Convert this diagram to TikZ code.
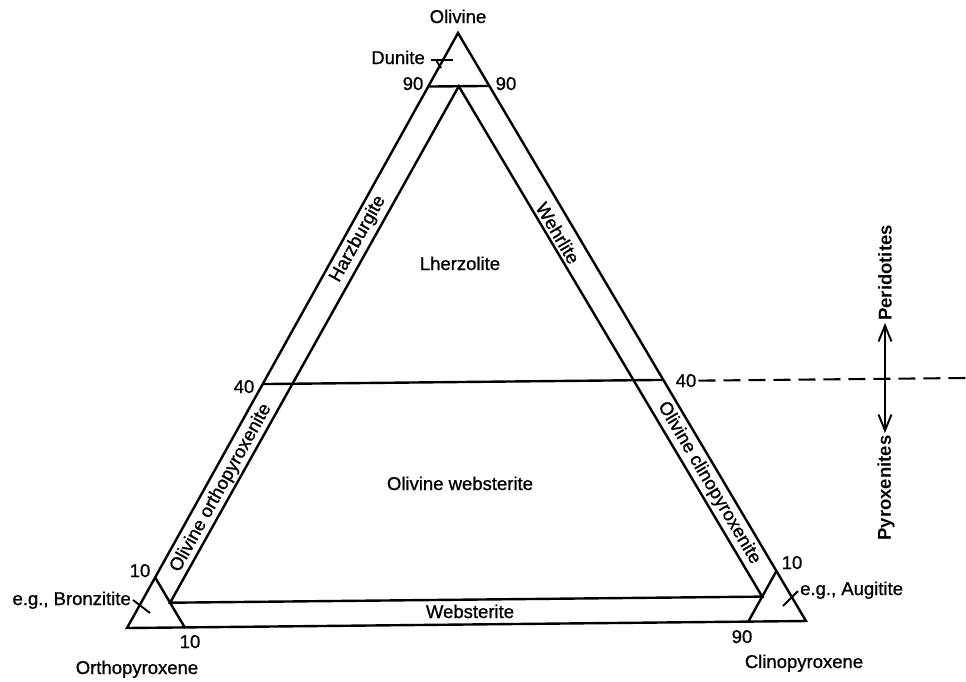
\documentclass[tikz,border=0pt]{standalone}
\usepackage{fontspec}
\setmainfont{Liberation Sans}
\newfontfamily\lblfam{Liberation Sans}[FakeBold=0.9]
\usetikzlibrary{arrows.meta}
\begin{document}
\begin{tikzpicture}[x=1pt,y=-1pt,
  edge/.style={line width=2.4pt, line join=miter},
  tickline/.style={line width=1.9pt},
  dashline/.style={line width=2.1pt, dash pattern=on 17pt off 8pt},
  arr/.style={line width=1.9pt, -{Straight Barb[length=16pt,width=13pt,line width=1.9pt]}},
  lbl/.style={inner sep=0pt, font=\fontsize{18.5}{22}\lblfam},
  blbl/.style={inner sep=0pt, font=\fontsize{18.5}{22}\selectfont\bfseries}]
\useasboundingbox (0,0) rectangle (966,681);
\fill[white] (0,0) rectangle (966,681);
% corners
\coordinate (ol) at (458,33);
\coordinate (opx) at (127,628);
\coordinate (cpx) at (806,621);
% field boundaries
\coordinate (t90l) at (barycentric cs:ol=0.91,opx=0.09,cpx=0);
\coordinate (t90r) at (barycentric cs:ol=0.91,opx=0,cpx=0.09);
\coordinate (ia) at (barycentric cs:ol=0.91,opx=0.045,cpx=0.045);
\coordinate (ibl) at (barycentric cs:ol=0.042,opx=0.915,cpx=0.043);
\coordinate (ibr) at (barycentric cs:ol=0.042,opx=0.043,cpx=0.915);
\coordinate (f40l) at (barycentric cs:ol=0.41,opx=0.59,cpx=0);
\coordinate (f40r) at (barycentric cs:ol=0.41,opx=0,cpx=0.59);
\coordinate (c10l) at (barycentric cs:ol=0.085,opx=0.915,cpx=0);
\coordinate (c10b) at (barycentric cs:ol=0,opx=0.915,cpx=0.085);
\coordinate (c10r) at (barycentric cs:ol=0.085,opx=0,cpx=0.915);
\coordinate (c90b) at (barycentric cs:ol=0,opx=0.085,cpx=0.915);

\draw[edge] (ol) -- (opx) -- (cpx) -- cycle;
\draw[edge] (t90l) -- (t90r);
\draw[edge] (ia) -- (ibl) -- (ibr) -- cycle;
\draw[edge] (f40l) -- (f40r);
\draw[edge] (c10l) -- (c10b);
\draw[edge] (c10r) -- (c90b);

% corner labels
\node[lbl, anchor=base] (olv) at (458,23) {Olivine};
\node[lbl, anchor=base] (orth) at (137,674) {Orthopyroxene};
\node[lbl, anchor=base] (clin) at (804,668) {Clinopyroxene};

% numbers
\node[lbl, anchor=base] (l90) at (413,90) {90};
\node[lbl, anchor=base] (r90) at (506,90) {90};
\node[lbl, anchor=base] (l40) at (244,393) {40};
\node[lbl, anchor=base] (r40) at (686,387) {40};
\node[lbl, anchor=base] (l10) at (140,577) {10};
\node[lbl, anchor=base] (b10) at (190,648) {10};
\node[lbl, anchor=base] (r10) at (792,569) {10};
\node[lbl, anchor=base] (b90) at (742,643) {90};

% rock names
\node[lbl, anchor=base east] (dun) at (425,64) {Dunite};
\node[lbl, anchor=base east] (bronz) at (131,605) {e.g., Bronzitite};
\node[lbl, anchor=base west] (aug) at (800,595) {e.g., Augitite};
\node[lbl, anchor=base] (lherz) at (460,270) {Lherzolite};
\node[lbl, anchor=base] (olweb) at (460,490) {Olivine websterite};
\node[lbl, anchor=base] (web) at (470,618) {Websterite};
\node[lbl, rotate=60.9] (harz) at (358,239) {Harzburgite};
\node[lbl, rotate=60.9] (olopx) at (221,488) {Olivine orthopyroxenite};
\node[lbl, rotate=-59.4] (wehr) at (558,233) {Wehrlite};
\node[lbl, rotate=-59.4] (olcpx) at (709,483) {Olivine clinopyroxenite};

% leader and tick marks
\coordinate (dl1) at (431,60);
\coordinate (dl2) at (453,60);
\coordinate (dt1) at (436,60);
\coordinate (dt2) at (441,68);
\draw[tickline] (dl1) -- (dl2);
\draw[tickline] (dt1) -- (dt2);
\coordinate (bt1) at (133,600);
\coordinate (bt2) at (150,613);
\draw[tickline] (bt1) -- (bt2);
\coordinate (at1) at (783,606);
\coordinate (at2) at (798,591);
\draw[tickline] (at1) -- (at2);

% peridotite / pyroxenite divide
\coordinate (dashE) at (966,378);
\draw[dashline] ([xshift=2pt]r40.east) -- (dashE);
\coordinate (ax) at (885,380);
\coordinate (aup) at (885,323);
\coordinate (adn) at (885,433);
\draw[arr] (ax) -- (aup);
\draw[arr] (ax) -- (adn);
\node[blbl, rotate=90] (perid) at (885,273) {Peridotites};
\node[blbl, rotate=90] (pyrox) at (886,488) {Pyroxenites};
\end{tikzpicture}
\end{document}
